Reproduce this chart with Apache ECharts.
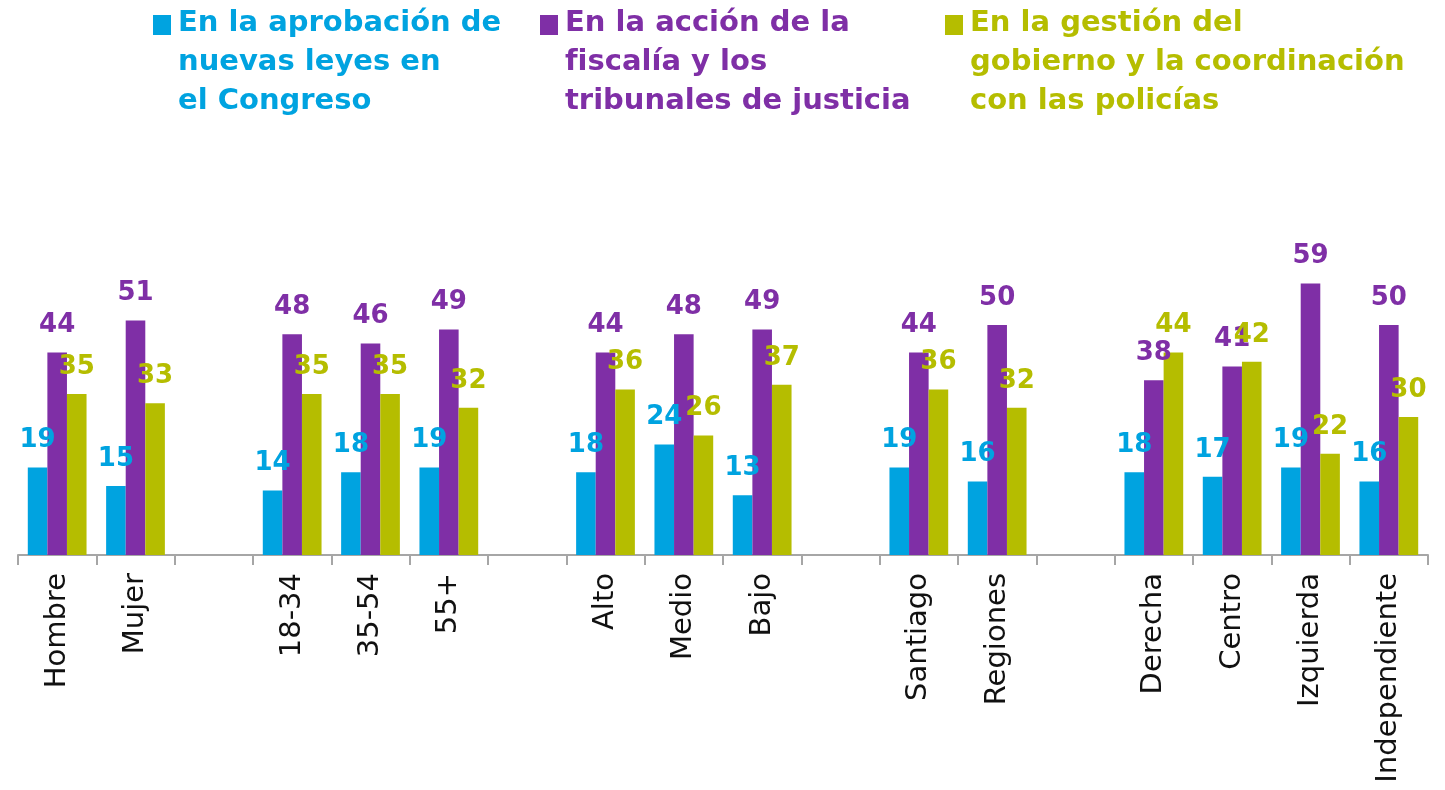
<!DOCTYPE html>
<html lang="es">
<head>
<meta charset="UTF-8">
<script src="https://cdn.jsdelivr.net/npm/echarts@6/dist/echarts.min.js"></script>
<style>
  html, body { margin: 0; padding: 0; background: #fff; }
  #chart { width: 1445px; height: 790px; }
</style>
</head>
<body>
<div id="chart"></div>
<script>
  // categorías (las vacías separan los grupos)
  var categories = ['Hombre', 'Mujer', '', '18-34', '35-54', '55+', '', 'Alto', 'Medio', 'Bajo', '',
    'Santiago', 'Regiones', '', 'Derecha', 'Centro', 'Izquierda', 'Independiente'];

  var seriesNames = [
    'En la aprobación de\nnuevas leyes en\nel Congreso',
    'En la acción de la\nfiscalía y los\ntribunales de justicia',
    'En la gestión del\ngobierno y la coordinación\ncon las policías'
  ];

  var congreso = [19, 15, '-', 14, 18, 19, '-', 18, 24, 13, '-', 19, 16, '-', 18, 17, 19, 16];
  var fiscalia = [44, 51, '-', 48, 46, 49, '-', 44, 48, 49, '-', 44, 50, '-', 38, 41, 59, 50];
  var gobierno = [35, 33, '-', 35, 35, 32, '-', 36, 26, 37, '-', 36, 32, '-', 44, 42, 22, 30];

  var colors = ['#00a3e0', '#7f2fa6', '#b5bd00'];
  var legendLeft = [153, 540, 945];

  // icono cuadrado alineado con la primera línea del texto
  var legendIcon = 'path://M0,0L0.01,0L0,0.01Z M0,11L18,11L18,31L0,31Z M0,117L0.01,117L0,116.99Z';

  var chart = echarts.init(document.getElementById('chart'));

  var legends = seriesNames.map(function (name, i) {
    return {
      data: [name],
      left: legendLeft[i],
      top: 4,
      padding: 0,
      icon: legendIcon,
      itemWidth: 18,
      itemHeight: 117,
      selectedMode: false,
      textStyle: {
        color: colors[i],
        fontFamily: 'DejaVu Sans',
        fontWeight: 'bold',
        fontSize: 29,
        lineHeight: 39,
        padding: [0, 0, 0, 2]
      }
    };
  });

  function makeSeries(name, data, color) {
    return {
      name: name,
      type: 'bar',
      data: data,
      barGap: '0%',
      barCategoryGap: '25%',
      itemStyle: { color: color },
      label: {
        show: true,
        position: 'top',
        distance: 14,
        color: color,
        fontFamily: 'DejaVu Sans',
        fontWeight: 'bold',
        fontSize: 26
      }
    };
  }

  var option = {
    animation: false,
    legend: legends,
    grid: { left: 18, right: 17, top: 279, bottom: 235 },
    xAxis: {
      type: 'category',
      data: categories,
      axisLine: { lineStyle: { color: '#a6a6a6', width: 2 } },
      axisTick: { show: true, length: 10, interval: 0, lineStyle: { color: '#a6a6a6', width: 2 } },
      axisLabel: {
        interval: 0,
        rotate: 90,
        margin: 18,
        color: '#111',
        fontFamily: 'DejaVu Sans',
        fontSize: 29
      }
    },
    yAxis: {
      type: 'value',
      min: 0,
      max: 60,
      show: false,
      splitLine: { show: false }
    },
    series: [
      makeSeries(seriesNames[0], congreso, colors[0]),
      makeSeries(seriesNames[1], fiscalia, colors[1]),
      makeSeries(seriesNames[2], gobierno, colors[2])
    ]
  };

  chart.setOption(option);
</script>
</body>
</html>
